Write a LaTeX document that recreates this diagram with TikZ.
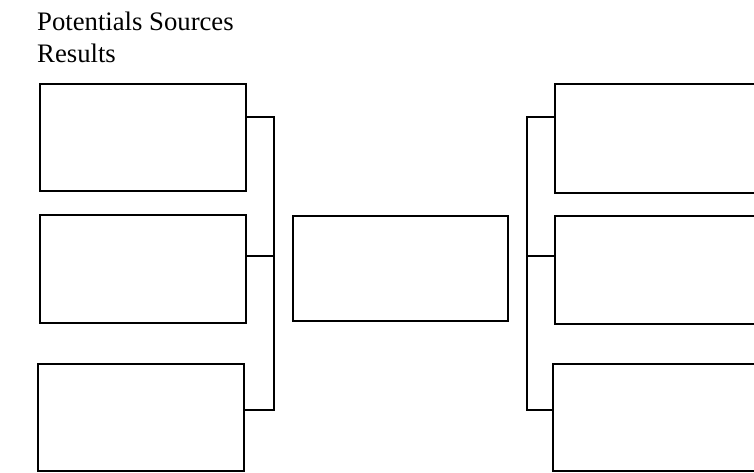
\documentclass[tikz,border=0pt]{standalone}
\usepackage{fontspec}
\setmainfont{Liberation Serif}
\begin{document}
\begin{tikzpicture}[
    x=1pt, y=-1pt,
    box/.style={draw, rectangle, inner sep=0pt, line width=1.8pt, minimum width=206pt, minimum height=107pt},
    link/.style={line width=1.8pt},
    head/.style={anchor=base west, inner sep=0pt, font=\fontsize{26.7}{32}\selectfont}
]
    \useasboundingbox (0,0) rectangle (754,472);
    \clip (0,0) rectangle (754,472);

    \node[head] (t1) at (37,30) {Potentials Sources};
    \node[head] (t2) at (37,62) {Results};

    % sources
    \node[box] (l1) at (143,137.5) {};
    \node[box, minimum height=108pt] (l2) at (143,269) {};
    \node[box] (l3) at (141,417.5) {};

    \node[box, minimum width=215pt, minimum height=105pt] (m) at (400.5,268.5) {};

    % results
    \node[box, minimum width=205pt, minimum height=109pt] (r1) at (657.5,138.5) {};
    \node[box, minimum width=205pt, minimum height=108pt] (r2) at (657.5,270) {};
    \node[box, minimum width=205pt] (r3) at (655.5,417.5) {};

    \coordinate (lb1) at (274,117);
    \coordinate (lb2) at (274,256);
    \coordinate (lb3) at (274,410);
    \coordinate (rb1) at (527,117);
    \coordinate (rb2) at (527,256);
    \coordinate (rb3) at (527,410);

    \draw[link] (l1.east |- lb1) -- (lb1) -- (lb3) -- (l3.east |- lb3);
    \draw[link] (l2.east |- lb2) -- (lb2);
    \draw[link] (r1.west |- rb1) -- (rb1) -- (rb3) -- (r3.west |- rb3);
    \draw[link] (r2.west |- rb2) -- (rb2);
\end{tikzpicture}
\end{document}
